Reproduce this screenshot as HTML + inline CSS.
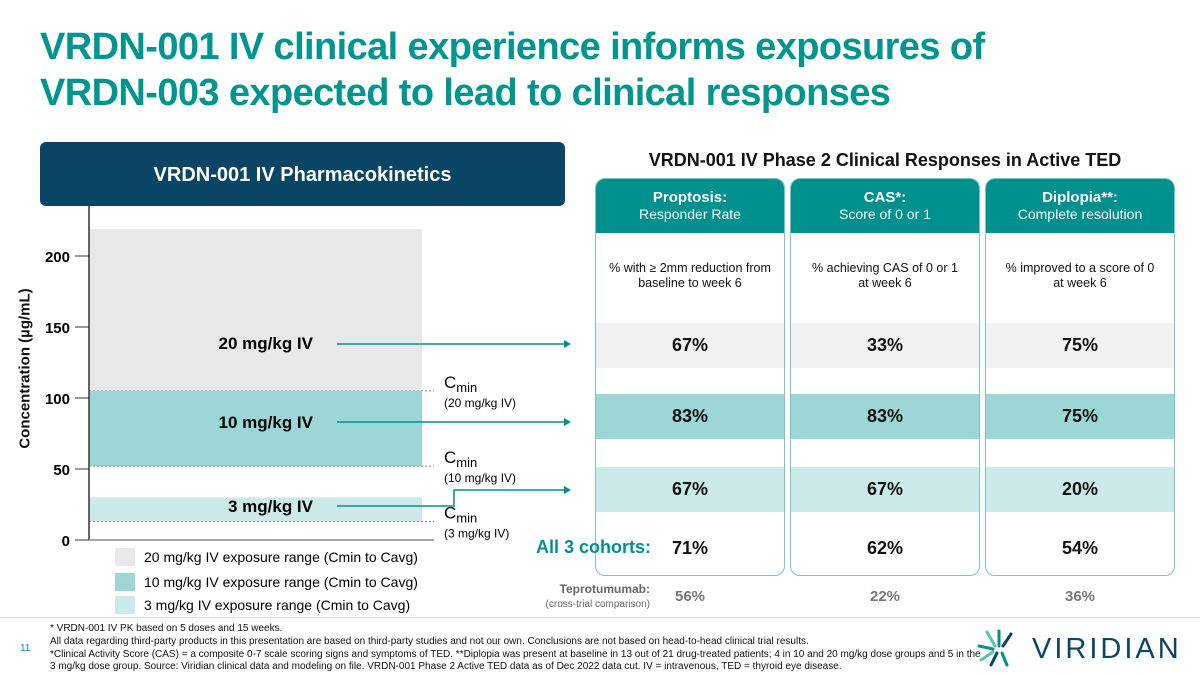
<!DOCTYPE html>
<html><head><meta charset="utf-8"><style>
*{margin:0;padding:0;box-sizing:border-box}
body{width:1200px;height:675px;background:#fff;position:relative;overflow:hidden;font-family:"Liberation Sans",Arial,sans-serif;color:#111}
.a{position:absolute}
.col{position:absolute;top:178px;width:190px;height:398px;border:1.5px solid #7cc4c4;border-radius:10px;overflow:hidden}
.hd{position:absolute;left:0;top:0;width:100%;height:54px;background:#00918f;color:#fff;text-align:center;font-size:14px;line-height:17px;padding-top:10px}
.hd b{font-size:15px}
.desc{position:absolute;top:82px;width:100%;text-align:center;font-size:12.5px;line-height:15px}
.band{position:absolute;left:0;width:100%;height:45px;text-align:center;font-weight:bold;font-size:18px;line-height:45px}
.tep{position:absolute;top:588px;width:190px;text-align:center;font-size:15px;font-weight:bold;color:#777}
.fn{position:absolute;left:50px;font-size:10px;color:#111;line-height:12.5px}
</style></head><body>
<div class="a" style="left:40px;top:24px;font-size:38px;font-weight:bold;color:#00968f;line-height:46px;letter-spacing:-0.6px">VRDN-001 IV clinical experience informs exposures of<br>VRDN-003 expected to lead to clinical responses</div>
<div class="a" style="left:40px;top:142px;width:525px;height:64px;background:#0a4565;border-radius:6px;color:#fff;font-weight:bold;font-size:20px;text-align:center;line-height:66px">VRDN-001 IV Pharmacokinetics</div>
<svg class="a" style="left:0;top:0" width="600" height="620">
<g id="chart"></g>
</svg>
<div class="a" style="left:-65px;top:360px;width:180px;transform:rotate(-90deg);font-weight:bold;font-size:15px;text-align:center">Concentration (µg/mL)</div>
<div class="a" style="left:594px;top:150px;width:582px;text-align:center;font-size:18px;font-weight:bold">VRDN-001 IV Phase 2 Clinical Responses in Active TED</div>
<div id="cols"></div>
<div class="a" style="left:536px;top:537px;font-size:18px;font-weight:bold;color:#00918f">All 3 cohorts:</div>
<div class="a" style="left:520px;top:582px;width:130px;text-align:right;font-size:12px;font-weight:bold;color:#666;line-height:14px">Teprotumumab:<br><span style="font-weight:normal;font-size:10px">(cross-trial comparison)</span></div>
<div class="a" style="left:0;top:617px;width:1200px;height:1px;background:#ddd"></div>
<div class="fn" style="top:623px">* VRDN-001 IV PK based on 5 doses and 15 weeks.</div>
<div class="fn" style="top:636px">All data regarding third-party products in this presentation are based on third-party studies and not our own. Conclusions are not based on head-to-head clinical trial results.<br>*Clinical Activity Score (CAS) = a composite 0-7 scale scoring signs and symptoms of TED. **Diplopia was present at baseline in 13 out of 21 drug-treated patients; 4 in 10 and 20 mg/kg dose groups and 5 in the<br>3 mg/kg dose group. Source: Viridian clinical data and modeling on file. VRDN-001 Phase 2 Active TED data as of Dec 2022 data cut. IV = intravenous, TED = thyroid eye disease.</div>
<div class="a" style="left:20px;top:643px;font-size:10px;color:#00918f">11</div>
<svg class="a" style="left:975px;top:628px" width="50" height="40">
<g stroke-width="3" stroke-linecap="round"><line x1="20" y1="18" x2="12" y2="4" stroke="#5cc4a8"/><line x1="24" y1="18" x2="24" y2="3" stroke="#00918f"/><line x1="28" y1="18" x2="36" y2="6" stroke="#0a4565"/><line x1="18" y1="21" x2="4" y2="18" stroke="#00918f"/><line x1="18" y1="24" x2="6" y2="32" stroke="#5cc4a8"/><line x1="22" y1="25" x2="16" y2="37" stroke="#0a4565"/><line x1="27" y1="25" x2="32" y2="37" stroke="#00918f"/></g></svg>
<div class="a" style="left:1032px;top:633px;font-size:29px;letter-spacing:3px;color:#0a4565">VIRIDIAN</div>
<script>
const doses=['20 mg/kg IV','10 mg/kg IV','3 mg/kg IV'];
const rangeLow=[105,52,13];
const rangeHigh=[219,105,30];
const yTicks=[0,50,100,150,200];
const colHeads=['Proptosis:','CAS*:','Diplopia**:'];
const colSubs=['Responder Rate','Score of 0 or 1','Complete resolution'];
const colDesc=['% with ≥ 2mm reduction from<br>baseline to week 6','% achieving CAS of 0 or 1<br>at week 6','% improved to a score of 0<br>at week 6'];
const r20=[67,33,75];
const r10=[83,83,75];
const r3=[67,67,20];
const rAll=[71,62,54];
const tepro=[56,22,36];
const fills=['#e8e8e8','#9dd6d6','#cdeaea'];
const bands=['#f2f2f2','#9dd6d6','#cdeaea'];
const NS='http://www.w3.org/2000/svg';
const g=document.getElementById('chart');
const y=v=>540-v*1.42;
function mk(t,a){const e=document.createElementNS(NS,t);for(const k in a)e.setAttribute(k,a[k]);g.appendChild(e);return e;}
doses.forEach((d,i)=>{
 const r=mk('rect',{x:89,y:y(rangeHigh[i]),width:333,height:y(rangeLow[i])-y(rangeHigh[i]),fill:fills[i]});
 
 
 const l=mk('line',{x1:89,x2:434,y1:y(rangeLow[i]),y2:y(rangeLow[i]),stroke:'#888','stroke-dasharray':'2,2'});
 
 
 const cy=y(rangeLow[i]);
 const t=mk('text',{x:444,y:cy-3,'font-size':17});t.innerHTML='C<tspan font-size="13" dy="4">min</tspan>';
 
 
 const t2=mk('text',{x:444,y:cy+16,'font-size':12});t2.textContent='('+d+')';
 
 
});
const labY=[343,422,506];
const arrY=[344,422,490];
doses.forEach((d,i)=>{
 const t=mk('text',{x:313,y:labY[i]+6,'font-size':17,'font-weight':'bold','text-anchor':'end'});t.textContent=d;
 
 
 const sy=i==2?labY[i]:arrY[i];
 const p=mk('path',{d:i==2?`M337 ${sy} H454 V${arrY[i]} H565`:`M337 ${sy} H565`,fill:'none',stroke:'#00918f','stroke-width':1.5});
 
 
 mk('path',{d:`M564 ${arrY[i]-4} L571 ${arrY[i]} L564 ${arrY[i]+4}Z`,fill:'#00918f'});
});
mk('line',{x1:89,x2:89,y1:206,y2:540,stroke:'#333','stroke-width':1.5});
mk('line',{x1:89,x2:434,y1:540,y2:540,stroke:'#888','stroke-width':1.5});
yTicks.forEach(v=>{
 mk('line',{x1:75,x2:89,y1:y(v),y2:y(v),stroke:'#333'});
 const t=mk('text',{x:70,y:y(v)+6,'font-size':15,'font-weight':'bold','text-anchor':'end'});t.textContent=v;
 
 
});
const legY=[557,582,605];
doses.forEach((d,i)=>{
 mk('rect',{x:115,y:legY[i]-9,width:20,height:18,fill:fills[i]});
 const t=mk('text',{x:144,y:legY[i]+5,'font-size':14});t.textContent=d+' exposure range (Cmin to Cavg)';
 
 
});
const cols=document.getElementById('cols');
const lefts=[595,790,985];
const bandTop=[144,215,288];
const rows=[r20,r10,r3];
colHeads.forEach((h,i)=>{
 let html=`<div class="hd"><b>${h}</b><br>${colSubs[i]}</div><div class="desc">${colDesc[i]}</div>`;
 rows.forEach((r,j)=>{html+=`<div class="band" style="top:${bandTop[j]}px;background:${bands[j]}">${r[i]}%</div>`;});
 html+=`<div class="band" style="top:347px">${rAll[i]}%</div>`;
 const c=document.createElement('div');c.className='col';c.style.left=lefts[i]+'px';c.innerHTML=html;
 
 
 cols.appendChild(c);
 const tp=document.createElement('div');tp.className='tep';tp.style.left=lefts[i]+'px';tp.textContent=tepro[i]+'%';
 
 
 cols.appendChild(tp);
});
</script>
</body></html>
